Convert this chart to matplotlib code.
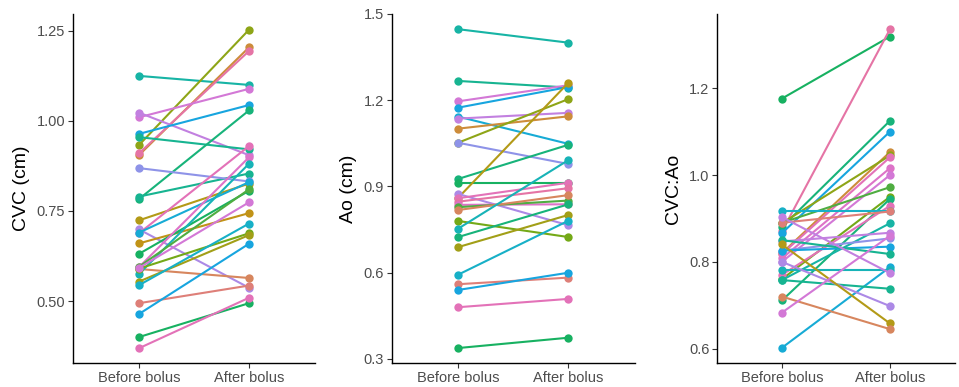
import numpy as np
import matplotlib
matplotlib.use("Agg")
import matplotlib.pyplot as plt

plt.rcParams['font.family'] = ['Liberation Sans', 'DejaVu Sans']

groups = ["Before bolus", "After bolus"]

# CVC (cm)
cvc_before = [1.125, 0.933, 0.905, 0.91, 1.01, 1.023, 0.964, 0.955, 0.783, 0.79,
              0.869, 0.724, 0.699, 0.688, 0.69, 0.66, 0.631, 0.594, 0.589, 0.575,
              0.59, 0.595, 0.554, 0.544, 0.494, 0.464, 0.40, 0.369, 0.592]
cvc_after = [1.10, 1.253, 1.204, 1.194, 1.089, 0.905, 1.044, 0.921, 1.029, 0.854,
             0.832, 0.826, 0.537, 0.93, 0.83, 0.744, 0.806, 0.899, 0.564, 0.881,
             0.688, 0.81, 0.683, 0.715, 0.543, 0.659, 0.494, 0.509, 0.774]
cvc_hue = [12, 6, 2, 24, 21, 20, 16, 11, 10, 11,
           18, 4, 19, 23, 15, 3, 9, 22, 1, 13,
           7, 8, 5, 14, 0, 16, 9, 23, 21]

# Ao (cm)
ao_before = [1.447, 1.267, 1.196, 1.174, 1.143, 1.136, 1.101, 1.052, 1.052, 0.926,
             0.911, 0.86, 0.874, 0.859, 0.847, 0.836, 0.828, 0.818, 0.78, 0.753,
             0.724, 0.689, 0.593, 0.560, 0.540, 0.480, 0.338]
ao_after = [1.40, 1.244, 1.252, 1.246, 1.048, 1.156, 1.144, 1.204, 0.978, 1.045,
            0.911, 1.261, 0.765, 0.913, 0.894, 0.838, 0.851, 0.87, 0.724, 0.992,
            0.838, 0.801, 0.781, 0.583, 0.600, 0.509, 0.374]
ao_hue = [12, 11, 21, 16, 15, 20, 2, 6, 18, 10,
          9, 4, 19, 23, 24, 22, 8, 1, 7, 13,
          10, 5, 14, 0, 16, 23, 9]

# CVC:Ao
ratio_before = [1.176, 0.87, 0.88, 0.866, 0.82, 0.889, 0.818, 0.808, 0.80, 0.89,
                0.76, 0.711, 0.77, 0.916, 0.89, 0.758, 0.847, 0.826, 0.826, 0.85,
                0.602, 0.781, 0.903, 0.758, 0.80, 0.84, 0.720, 0.683]
ratio_after = [1.319, 1.336, 1.125, 1.100, 1.053, 1.045, 1.041, 1.016, 1.0, 0.972,
               0.950, 0.945, 0.929, 0.916, 0.916, 0.889, 0.867, 0.854, 0.835, 0.818,
               0.788, 0.781, 0.774, 0.738, 0.698, 0.658, 0.645, 0.86]
ratio_hue = [9, 24, 10, 16, 2, 6, 23, 22, 21, 8,
             7, 10, 23, 14, 0, 12, 20, 18, 16, 11,
             15, 13, 20, 11, 19, 4, 1, 21]


def hue_colors(n, c=85, l=64):
    # ggplot-like hue palette (polar LUV -> sRGB)
    h = np.linspace(15, 375, n + 1)[:-1]
    hr = np.deg2rad(h)
    u = c * np.cos(hr)
    v = c * np.sin(hr)
    xn, yn, zn = 95.047, 100.0, 108.883
    un = 4 * xn / (xn + 15 * yn + 3 * zn)
    vn = 9 * yn / (xn + 15 * yn + 3 * zn)
    Y = np.full(n, yn * ((l + 16) / 116) ** 3)
    up = u / (13 * l) + un
    vp = v / (13 * l) + vn
    X = 9 * Y * up / (4 * vp)
    Z = -X / 3 - 5 * Y + 3 * Y / vp
    xyz = np.vstack([X, Y, Z]) / 100
    m = np.array([[3.2404542, -1.5371385, -0.4985314],
                  [-0.9692660, 1.8760108, 0.0415560],
                  [0.0556434, -0.2040259, 1.0572252]])
    rgb = m @ xyz
    rgb = np.where(rgb <= 0.0031308, 12.92 * rgb, 1.055 * np.clip(rgb, 0, None) ** (1 / 2.4) - 0.055)
    rgb = np.clip(rgb.T, 0, 1)
    # soften a little, the reference looks slightly washed out
    return 0.85 * rgb + 0.15 * 0.6


palette = hue_colors(26)

fig = plt.figure(figsize=(9.59, 3.87), dpi=100)

panels = [
    (cvc_before, cvc_after, cvc_hue, "CVC (cm)", [0.50, 0.75, 1.00, 1.25], "%.2f", (0.328, 1.297),
     [0.0761, 0.062, 0.2523, 0.902]),
    (ao_before, ao_after, ao_hue, "Ao (cm)", [0.3, 0.6, 0.9, 1.2, 1.5], "%.1f", (0.286, 1.50),
     [0.4085, 0.062, 0.2534, 0.902]),
    (ratio_before, ratio_after, ratio_hue, "CVC:Ao", [0.6, 0.8, 1.0, 1.2], "%.1f", (0.567, 1.371),
     [0.7477, 0.062, 0.2480, 0.902]),
]

for before, after, hues, label, ticks, fmt, ylim, rect in panels:
    ax = fig.add_axes(rect)
    for b, a, k in zip(before, after, hues):
        ax.plot([1, 2], [b, a], color=palette[k], lw=1.5, marker='o', ms=6,
                markeredgewidth=0, solid_capstyle='round')
    ax.set_xlim(0.4, 2.6)
    ax.set_ylim(*ylim)
    ax.set_xticks([1, 2])
    ax.set_xticklabels(groups)
    ax.set_yticks(ticks)
    ax.set_yticklabels([fmt % t for t in ticks])
    ax.set_ylabel(label, fontsize=14, color='black', labelpad=5)
    ax.tick_params(axis='both', labelsize=10.5, colors='#333333', length=3.5, width=0.8,
                   labelcolor='#4D4D4D', pad=2)
    for s in ['top', 'right']:
        ax.spines[s].set_visible(False)
    for s in ['left', 'bottom']:
        ax.spines[s].set_linewidth(1.0)
        ax.spines[s].set_color('black')

fig.savefig("out.png", dpi=100)
